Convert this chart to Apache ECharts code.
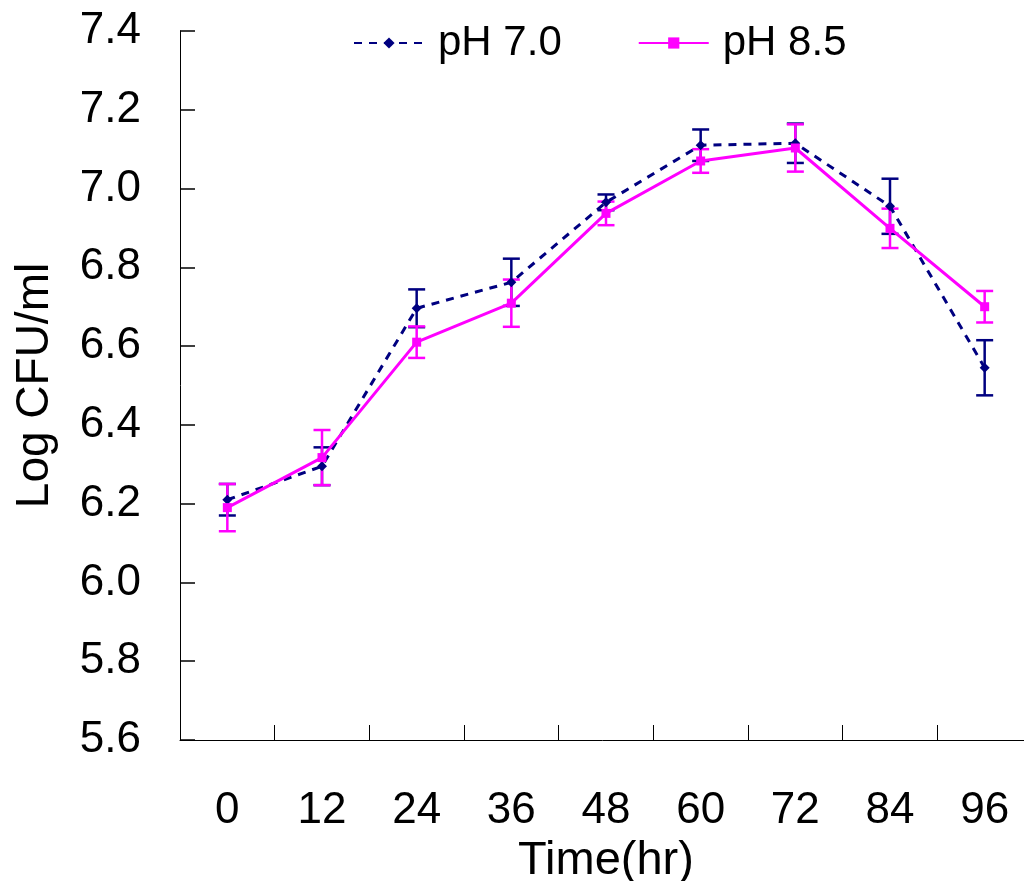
<!DOCTYPE html>
<html>
<head>
<meta charset="utf-8">
<script src="https://cdn.jsdelivr.net/npm/echarts@6/dist/echarts.min.js"></script>
<style>
html, body { margin: 0; padding: 0; background: #fff; }
#chart { width: 1024px; height: 881px; }
</style>
</head>
<body>
<div id="chart"></div>
<script>
var hours = ['0', '12', '24', '36', '48', '60', '72', '84', '96'];
var ph70 = [6.21, 6.295, 6.696, 6.762, 6.965, 7.11, 7.115, 6.955, 6.545];
var ph70Err = [0.04, 0.048, 0.048, 0.06, 0.02, 0.04, 0.05, 0.07, 0.07];
var ph85 = [6.19, 6.317, 6.61, 6.709, 6.937, 7.07, 7.103, 6.899, 6.70];
var ph85Err = [0.06, 0.07, 0.04, 0.06, 0.03, 0.03, 0.06, 0.05, 0.04];

var font = 'Liberation Sans, Arial, sans-serif';

// [index, low, high] rows for the error bar series
function errRows(vals, errs) {
    return vals.map(function (v, i) {
        return [i, v - errs[i], v + errs[i]];
    });
}

function errorBars(color) {
    return function (params, api) {
        var i = api.value(0);
        var lo = api.coord([i, api.value(1)]);
        var hi = api.coord([i, api.value(2)]);
        var w = 8.5;
        var style = { stroke: color, lineWidth: 2.5 };
        return {
            type: 'group',
            children: [
                { type: 'line', shape: { x1: hi[0], y1: hi[1], x2: lo[0], y2: lo[1] }, style: style },
                { type: 'line', shape: { x1: hi[0] - w, y1: hi[1], x2: hi[0] + w, y2: hi[1] }, style: style },
                { type: 'line', shape: { x1: lo[0] - w, y1: lo[1], x2: lo[0] + w, y2: lo[1] }, style: style }
            ]
        };
    };
}

var myChart = echarts.init(document.getElementById('chart'));
var option = {
    animation: false,
    textStyle: { fontFamily: font },
    legend: {
        data: ['pH 7.0', 'pH 8.5'],
        top: 17,
        left: 348,
        itemWidth: 70,
        itemHeight: 14,
        itemGap: 76,
        textStyle: { fontSize: 42, color: '#000', fontFamily: font, padding: [0, 0, 0, 9] }
    },
    grid: {
        left: 180,
        right: -8,
        top: 31,
        bottom: 141,
        outerBoundsMode: 'none'
    },
    xAxis: {
        type: 'category',
        data: hours,
        boundaryGap: true,
        name: 'Time(hr)',
        nameLocation: 'middle',
        nameGap: 92,
        nameTextStyle: { fontSize: 47, color: '#000', fontFamily: font },
        axisLine: { show: true, lineStyle: { color: '#000', width: 1 } },
        axisTick: { show: true, inside: true, length: 15, interval: 0, lineStyle: { color: '#000', width: 1 } },
        axisLabel: { fontSize: 44, color: '#000', margin: 49, fontFamily: font },
        splitLine: { show: false }
    },
    yAxis: {
        type: 'value',
        min: 5.6,
        max: 7.4,
        interval: 0.2,
        name: 'Log CFU/ml',
        nameLocation: 'middle',
        nameRotate: 90,
        nameGap: 122,
        nameTextStyle: { fontSize: 46, color: '#000', fontFamily: font },
        axisLine: { show: true, lineStyle: { color: '#000', width: 1 } },
        axisTick: { show: true, inside: true, length: 15, lineStyle: { color: '#000', width: 1.5 } },
        axisLabel: {
            fontSize: 44, color: '#000', margin: 39, fontFamily: font,
            formatter: function (v) { return v.toFixed(1); }
        },
        splitLine: { show: false }
    },
    series: [
        {
            name: 'pH 7.0 err',
            type: 'custom',
            renderItem: errorBars('#000080'),
            data: errRows(ph70, ph70Err),
            encode: { x: 0, y: [1, 2] }
        },
        {
            name: 'pH 7.0',
            type: 'line',
            data: ph70,
            symbol: 'diamond',
            symbolSize: 10,
            color: '#000080',
            lineStyle: { color: '#000080', width: 3, type: [8, 7] },
            itemStyle: { color: '#000080' }
        },
        {
            name: 'pH 8.5 err',
            type: 'custom',
            renderItem: errorBars('#FF00FF'),
            data: errRows(ph85, ph85Err),
            encode: { x: 0, y: [1, 2] }
        },
        {
            name: 'pH 8.5',
            type: 'line',
            data: ph85,
            symbol: 'rect',
            symbolSize: 9,
            color: '#FF00FF',
            lineStyle: { color: '#FF00FF', width: 3 },
            itemStyle: { color: '#FF00FF' }
        }
    ]
};
myChart.setOption(option);
window.addEventListener('resize', function () {
    myChart.resize();
});
</script>
</body>
</html>
